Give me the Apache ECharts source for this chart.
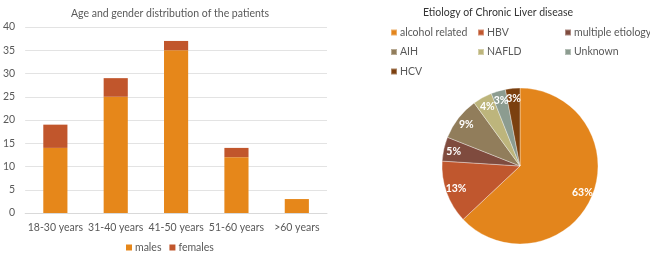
<!DOCTYPE html>
<html>
<head>
<meta charset="utf-8">
<script src="https://cdn.jsdelivr.net/npm/echarts@6/dist/echarts.min.js"></script>
<style>
html,body{margin:0;padding:0;background:#fff;}
#main{width:650px;height:254px;}
</style>
</head>
<body>
<div id="main"></div>
<script>
// bar chart data
var ageGroups = ['18-30 years', '31-40 years', '41-50 years', '51-60 years', '>60 years'];
var males = [14, 25, 35, 12, 3];
var females = [5, 4, 2, 2, 0];
var yTicks = [0, 5, 10, 15, 20, 25, 30, 35, 40];

// pie data (percent)
var etiologies = ['alcohol related', 'HBV', 'multiple etiology', 'AIH', 'NAFLD', 'Unknown', 'HCV'];
var shares = [63, 13, 5, 9, 4, 3, 3];
var pieColors = ['#E3851C', '#C0572E', '#7F4B3E', '#917D5B', '#BDB57C', '#8C9C90', '#7B400F'];

var font = 'Lato';
var grey = '#595959';

var pieData = etiologies.map(function (n, i) {
    return {name: n, value: shares[i], itemStyle: {color: pieColors[i]}};
});

function legendFor(names, left) {
    return {
        data: names, left: left, top: 27, orient: 'vertical', padding: 0,
        itemWidth: 6, itemHeight: 6, itemGap: 8.5, icon: 'rect',
        textStyle: {color: grey, fontSize: 10.5, fontFamily: font, padding: [0, 0, 0, -2]}
    };
}

var myChart = echarts.init(document.getElementById('main'));
myChart.setOption({
    animation: false,
    title: [
        {text: 'Age and gender distribution of the patients', left: 165, top: 3, textAlign: 'center',
         textStyle: {fontSize: 10.5, fontWeight: 'normal', color: grey, fontFamily: font}},
        {text: 'Etiology of Chronic Liver disease', left: 493, top: 2, textAlign: 'center',
         textStyle: {fontSize: 10.5, fontWeight: 'normal', color: '#333', fontFamily: font}}
    ],
    legend: [
        {data: ['males', 'females'], left: 126, top: 242, padding: 0, itemWidth: 6, itemHeight: 6, itemGap: 8, icon: 'rect',
         textStyle: {color: grey, fontSize: 10.5, fontFamily: font, padding: [0, 0, 0, -2]}},
        legendFor(['alcohol related', 'AIH', 'HCV'], 390),
        legendFor(['HBV', 'NAFLD'], 477),
        legendFor(['multiple etiology', 'Unknown'], 564)
    ],
    grid: {left: 22, right: 323, top: 27, bottom: 41},
    xAxis: {
        type: 'category', data: ageGroups,
        axisLine: {lineStyle: {color: '#d9d9d9'}}, axisTick: {show: false},
        axisLabel: {color: grey, fontSize: 10.5, fontFamily: font, margin: 9, interval: 0}
    },
    yAxis: {
        type: 'value', min: yTicks[0], max: yTicks[yTicks.length - 1], interval: 5,
        axisLabel: {color: grey, fontSize: 10.5, fontFamily: font, margin: 10},
        splitLine: {lineStyle: {color: '#e3e3e3'}}
    },
    series: [
        {name: 'males', type: 'bar', stack: 'g', data: males, barWidth: '40%', itemStyle: {color: '#E6871A'}},
        {name: 'females', type: 'bar', stack: 'g', data: females, barWidth: '40%', itemStyle: {color: '#C1562C'}},
        {
            name: 'etiology', type: 'pie', center: [520, 166], radius: 78, startAngle: 90,
            data: pieData, label: {show: false}, labelLine: {show: false},
            itemStyle: {borderColor: 'rgba(255,255,255,0.35)', borderWidth: 1}
        },
        {
            // label ring only, so labels sit near the rim
            name: 'etiologyLabels', type: 'pie', center: [520, 166], radius: [46, 84], startAngle: 90,
            silent: true, legendHoverLink: false, avoidLabelOverlap: false,
            labelLayout: {hideOverlap: false},
            data: pieData.map(function (d) { return {name: d.name + ' ', value: d.value}; }),
            itemStyle: {color: 'rgba(0,0,0,0)'},
            label: {show: true, position: 'inside', formatter: '{c}%', color: '#fff', fontWeight: 'bold',
                    fontSize: 10.5, fontFamily: font},
            labelLine: {show: false}
        }
    ]
});
</script>
</body>
</html>
